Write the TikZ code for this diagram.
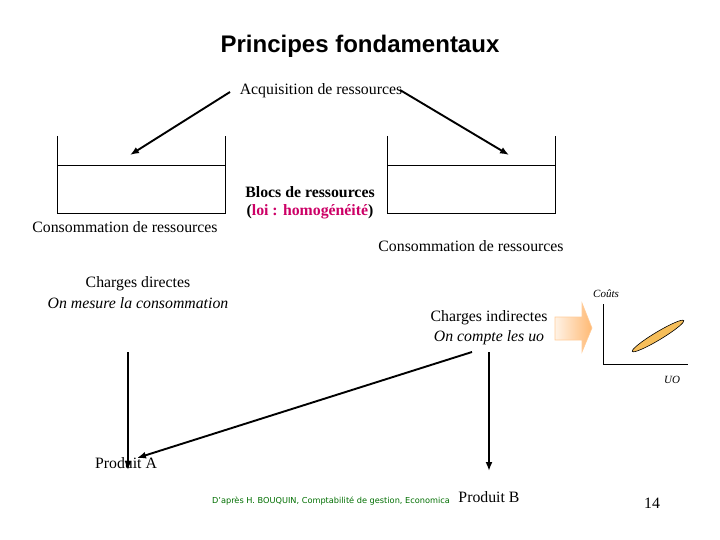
\documentclass[tikz,border=0pt]{standalone}
\usepackage{fontspec}
\setmainfont{Liberation Serif}
\newfontfamily\titlefont{Liberation Sans}
\newfontfamily\notefont{DejaVu Sans}
\usetikzlibrary{arrows.meta,shapes.geometric}
\definecolor{magentaT}{RGB}{204,0,102}
\definecolor{noteGreen}{RGB}{0,110,0}
\definecolor{ellFill}{RGB}{246,190,90}
\tikzset{
  txt/.style={inner sep=0pt, font=\fontsize{15.8}{18}\selectfont},
  txtb/.style={inner sep=0pt, font=\fontsize{15.8}{18}\selectfont\bfseries},
  txti/.style={inner sep=0pt, font=\fontsize{15.8}{18}\selectfont\itshape},
  small/.style={inner sep=0pt, font=\fontsize{11}{13}\selectfont\itshape},
  arr/.style={line width=1.9pt, -{Latex[length=9pt,width=7pt]}},
  box/.style={line width=1pt},
}
\begin{document}
\begin{tikzpicture}[x=1pt,y=-1pt]
\useasboundingbox (0,0) rectangle (720,540);
% title
\node[inner sep=0pt, font=\titlefont\bfseries\fontsize{24}{28}\selectfont] (title) at (360,46) {Principes fondamentaux};
% acquisition
\node[txt] (acq) at (321,91) {Acquisition de ressources};
\coordinate (l1s) at (230,92);
\coordinate (l1e) at (130,155);
\coordinate (r1s) at (400,90);
\coordinate (r1e) at (509,155);
\draw[arr] (l1s) -- (l1e);
\draw[arr] (r1s) -- (r1e);
% containers
\draw[box] (57,136) -- (57,214) -- (225,214) -- (225,136);
\draw[box] (57,166) -- (225,166);
\draw[box] (387,136) -- (387,214) -- (555,214) -- (555,136);
\draw[box] (387,166) -- (555,166);
\node[txt] (consL) at (125,227) {Consommation de ressources};
\node[txt] (consR) at (471,246) {Consommation de ressources};
\node[txtb] (blocs) at (310,192) {Blocs de ressources};
\node[txtb] (loi) at (310,212) {(\textcolor{magentaT}{loi : homogénéité})};
% charges
\node[txt] (cd1) at (138,284) {Charges directes};
\node[txti] (cd2) at (138,303) {On mesure la consommation};
\node[txt] (ci1) at (489,318) {Charges indirectes};
\node[txti] (ci2) at (489,338) {On compte les uo};
% block arrow
\path[left color=orange!10, right color=orange!55, draw=orange!40, line width=0.6pt]
  (555,317) -- (582,317) -- (582,303) -- (592,328) -- (582,352) -- (582,340) -- (555,340) -- cycle;
% chart
\draw[line width=0.8pt] (603,304) -- (603,364) -- (688,364);
\node[small] (couts) at (606,294) {Coûts};
\node[small] (uo) at (672,380) {UO};
\node[ellipse, draw, line width=0.6pt, fill=ellFill, minimum width=60pt, minimum height=8pt, inner sep=0pt, rotate=31] (ell) at (658,336) {};
% flows
\coordinate (a1s) at (128,352);
\coordinate (a1e) at (128,470);
\coordinate (b1s) at (489,352);
\coordinate (b1e) at (489,471);
\coordinate (d1s) at (472,352);
\coordinate (d1e) at (137,458);
\draw[arr] (a1s) -- (a1e);
\draw[arr] (b1s) -- (b1e);
\draw[arr] (d1s) -- (d1e);
\node[txt] (pa) at (126,463) {Produit A};
\node[txt] (pb) at (489,497) {Produit B};
\node[inner sep=0pt, font=\notefont\fontsize{8.2}{10}\selectfont, text=noteGreen] (note) at (331,501) {D’après H. BOUQUIN, Comptabilité de gestion, Economica};
\node[txt] (num) at (652,503) {14};
\end{tikzpicture}
\end{document}
